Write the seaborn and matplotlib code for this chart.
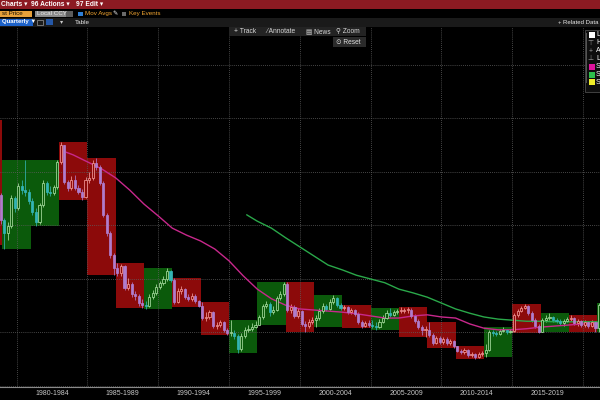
import numpy as np
import pandas as pd
import matplotlib.pyplot as plt
from matplotlib.patches import Rectangle
import seaborn as sns

# quarterly candles from Q1 1977 (the first seven quarters sit left of the view)
start_year = 1977
first_open = 40.4
closes = [44.1, 48.8, 46.0, 39.4, 27.7, 32.9, 35.7,
          31.0, 28.6, 29.9, 35.1, 33.3, 37.4, 36.6, 36.3, 34.6, 32.5,
          30.7, 33.8, 37.9, 36.3, 36.1, 37.2, 41.9, 45.0, 38.1, 37.0,
          38.5, 37.0, 36.3, 35.3, 38.5, 38.9, 41.7, 40.9, 37.9, 32.0,
          28.6, 24.5, 22.1, 21.1, 22.4, 18.3, 19.1, 17.2, 16.8, 15.5,
          15.1, 15.0, 16.6, 17.4, 18.5, 19.3, 20.0, 21.5, 19.8, 15.7,
          17.8, 18.1, 16.6, 16.3, 16.8, 15.9, 15.0, 12.7, 12.9, 13.8,
          11.2, 11.4, 12.0, 10.5, 9.9, 9.9, 9.3, 6.9, 9.3, 10.5,
          10.7, 11.0, 11.4, 12.9, 15.0, 15.3, 13.8, 14.2, 16.4, 17.2,
          19.1, 14.2, 14.8, 13.1, 14.0, 11.6, 11.2, 12.0, 12.3, 12.7,
          14.0, 15.0, 14.4, 15.7, 16.4, 15.1, 14.6, 14.8, 13.8, 14.2,
          13.5, 12.0, 11.2, 11.8, 11.4, 11.2, 11.0, 12.0, 12.7, 13.6,
          13.3, 13.8, 14.0, 14.0, 14.2, 14.2, 13.1, 12.1, 11.0, 10.5,
          10.5, 9.5, 8.0, 9.0, 8.2, 8.8, 8.0, 8.4, 7.5, 6.5,
          6.4, 6.7, 5.8, 6.0, 5.4, 6.0, 6.2, 6.7, 10.1, 9.9,
          9.7, 10.3, 10.5, 10.1, 10.3, 13.3, 14.0, 14.6, 15.0, 13.6,
          12.3, 11.2, 10.1, 12.3, 12.7, 12.9, 12.3, 12.1, 11.8, 12.1,
          12.5, 12.7, 11.8, 12.1, 11.4, 12.0, 11.2, 12.0, 10.8, 15.1]
highs = [46.0, 49.7, 49.3, 46.4, 40.0, 33.8, 36.6,
         36.1, 31.4, 30.7, 35.7, 35.5, 37.9, 38.5, 42.2, 36.8, 35.1,
         33.3, 34.2, 38.5, 38.3, 37.4, 37.6, 42.2, 45.6, 44.7, 38.5,
         39.3, 39.4, 37.6, 36.8, 39.1, 40.0, 42.2, 42.6, 41.3, 38.3,
         32.3, 29.0, 24.9, 23.0, 22.8, 22.6, 20.2, 19.4, 17.8, 17.2,
         16.3, 15.9, 17.2, 17.9, 19.1, 19.6, 20.6, 22.1, 21.7, 20.2,
         18.3, 18.7, 18.3, 17.2, 17.4, 17.2, 16.1, 15.7, 13.8, 14.2,
         14.0, 12.0, 12.3, 12.1, 10.8, 12.3, 10.5, 9.7, 9.9, 11.0,
         11.4, 11.8, 12.1, 13.3, 15.3, 15.9, 15.7, 15.0, 16.8, 17.8,
         19.4, 19.4, 15.3, 15.1, 14.6, 14.2, 12.1, 12.5, 12.9, 13.3,
         14.6, 15.5, 15.3, 16.3, 17.0, 16.6, 15.5, 15.1, 15.0, 14.6,
         14.4, 13.8, 12.3, 12.1, 12.3, 12.3, 12.0, 12.5, 13.3, 14.2,
         14.6, 14.2, 14.4, 14.8, 14.6, 14.8, 14.6, 13.5, 12.5, 11.4,
         11.2, 12.0, 9.9, 9.3, 9.3, 9.2, 9.2, 8.8, 8.6, 7.3,
         6.9, 7.1, 6.9, 6.4, 6.2, 6.4, 6.5, 7.9, 10.5, 10.5,
         10.3, 10.7, 11.0, 10.7, 10.7, 13.6, 14.4, 15.0, 15.3, 15.1,
         14.0, 12.7, 11.6, 12.7, 13.3, 13.6, 13.1, 12.7, 12.5, 12.5,
         12.9, 13.3, 12.9, 12.5, 12.3, 12.3, 12.1, 12.3, 12.1, 15.5]
lows = [40.0, 43.7, 45.0, 38.5, 26.4, 26.9, 32.0,
        30.3, 25.6, 27.3, 29.5, 32.5, 32.9, 35.9, 35.5, 34.0, 32.0,
        29.9, 30.3, 33.5, 35.7, 35.5, 35.7, 36.8, 41.5, 37.8, 36.4,
        36.6, 36.6, 35.9, 34.8, 35.1, 37.9, 38.5, 40.4, 37.6, 31.6,
        28.0, 23.9, 20.7, 20.6, 20.6, 17.9, 17.9, 16.6, 16.1, 15.0,
        14.6, 14.4, 14.8, 16.3, 17.0, 18.1, 18.9, 19.6, 19.4, 15.3,
        15.5, 17.2, 16.3, 15.9, 15.9, 15.5, 14.8, 12.3, 12.1, 12.5,
        10.8, 10.7, 11.0, 10.1, 9.5, 9.3, 8.8, 6.2, 6.5, 9.0,
        10.1, 10.3, 10.8, 11.4, 12.5, 14.6, 13.1, 13.5, 14.0, 16.1,
        16.8, 13.8, 13.6, 12.7, 12.7, 11.2, 10.1, 10.8, 11.6, 11.0,
        12.3, 13.6, 14.0, 14.2, 15.3, 14.8, 14.2, 14.2, 13.5, 13.5,
        13.1, 11.6, 10.8, 11.0, 11.0, 10.8, 10.5, 10.8, 11.8, 12.5,
        12.9, 13.1, 13.5, 13.6, 13.6, 13.6, 12.7, 11.8, 10.7, 9.5,
        9.2, 9.2, 7.7, 7.9, 7.9, 7.9, 7.7, 7.7, 7.1, 6.4,
        6.0, 6.0, 5.4, 5.4, 5.0, 5.2, 5.6, 5.4, 6.5, 9.3,
        9.3, 9.5, 10.1, 9.7, 9.9, 10.1, 12.9, 13.8, 14.4, 13.3,
        12.0, 10.8, 9.9, 10.5, 12.0, 12.3, 12.0, 11.8, 11.4, 11.2,
        12.0, 12.1, 11.4, 11.2, 11.0, 11.0, 10.8, 11.0, 10.1, 10.1]

# moving averages
ma50_years = [1983.5] + list(range(1984, 2022))
ma50 = [43.7, 43.2, 41.9, 40.6, 38.9, 36.6, 34.0, 31.8, 29.5, 28.2,
        27.1, 25.6, 23.4, 20.6, 18.1, 16.3, 15.1, 14.4, 14.2, 14.0,
        13.8, 13.5, 13.1, 12.7, 12.7, 13.1, 13.3, 12.9, 12.7, 11.6,
        10.8, 10.5, 10.5, 10.7, 11.0, 11.2, 11.4, 11.6, 11.6]
ma100_years = [1996.25] + list(range(1997, 2022))
ma100 = [32.0, 30.8, 29.5, 27.7, 26.0, 24.3, 22.6, 21.7, 20.7, 20.0,
         19.3, 18.1, 17.4, 16.6, 15.5, 14.4, 13.6, 12.9, 12.5, 12.3,
         12.1, 12.1, 12.0, 12.0, 12.0, 12.0]

period_labels = ["1980-1984", "1985-1989", "1990-1994", "1995-1999",
                 "2000-2004", "2005-2009", "2010-2014", "2015-2019"]

sns.set_style("dark")
plt.rcParams["font.family"] = ["Liberation Sans", "DejaVu Sans"]

BOX_UP, BOX_DN = "#0b5a0b", "#8c0a0a"

df = pd.DataFrame({"close": closes, "high": highs, "low": lows})
df["open"] = [first_open] + closes[:-1]
df["t"] = start_year + 0.125 + 0.25 * np.arange(len(df))
df["high"] = df[["high", "open", "close"]].max(axis=1)
df["low"] = df[["low", "open", "close"]].min(axis=1)
df["block"] = np.arange(len(df)) // 8

# two-year range boxes
boxes = df.groupby("block").agg(open=("open", "first"), close=("close", "last"),
                                high=("high", "max"), low=("low", "min"))
boxes["start"] = start_year + 2 * boxes.index
boxes["up"] = boxes["close"] > boxes["open"]
df["box_up"] = df["block"].map(boxes["up"])

up = df["close"] >= df["open"]
line_col = np.where(df["box_up"], np.where(up, "#a9dfa2", "#33b4b4"),
                    np.where(up, "#f59a9a", "#b07ccc"))
face_col = np.where(up, np.where(df["box_up"], BOX_UP, BOX_DN), line_col)

fig = plt.figure(figsize=(6, 4), dpi=100, facecolor="black")
ax = fig.add_axes([0, 13 / 400, 1, 360 / 400], facecolor="black")

ax.bar(boxes["start"] + 1, boxes["high"] - boxes["low"], width=2, bottom=boxes["low"],
       color=np.where(boxes["up"], BOX_UP, BOX_DN), linewidth=0, zorder=1)

ax.vlines(df["t"], df["low"], df["high"], colors=line_col, lw=0.55, zorder=3)
body_h = (df["close"] - df["open"]).abs().clip(lower=0.12)
ax.bar(df["t"], body_h, width=0.15, bottom=df[["open", "close"]].min(axis=1),
       color=face_col, edgecolor=line_col, linewidth=0.55, zorder=4)

sns.lineplot(x=ma50_years, y=ma50, ax=ax, color="#c8288c", lw=1.0, zorder=3.5)
sns.lineplot(x=ma100_years, y=ma100, ax=ax, color="#2aa84a", lw=1.0, zorder=3.5)

ax.set_xlim(1978.835, 2021.194)
ax.set_ylim(-0.19, 67.1)
ax.set_yticks(range(0, 70, 10))
ax.set_xticks(range(1980, 2021, 5))
ax.set_xticks([1982.5 + 5 * i for i in range(len(period_labels))], minor=True)
ax.set_xticklabels(period_labels, minor=True)
ax.set_axisbelow(False)
ax.grid(True, which="major", color="#5e5e5e", lw=0.6, ls=(0, (1, 1.5)))
ax.tick_params(axis="y", length=0, labelleft=False)
ax.tick_params(axis="x", which="major", length=9, width=0.8, color="#9a9a9a",
               labelbottom=False)
ax.tick_params(axis="x", which="minor", length=0, labelsize=5,
               labelcolor="#c8c8c8", pad=2.5)
ax.set_xlabel("")
ax.set_ylabel("")
for side in ["top", "right", "left"]:
    ax.spines[side].set_visible(False)
ax.spines["bottom"].set_color("#8a8a8a")
ax.spines["bottom"].set_linewidth(0.8)


def px_rect(x0, y0, x1, y1, color, ec="none", lw=0):
    fig.add_artist(Rectangle((x0 / 600, 1 - y1 / 400), (x1 - x0) / 600, (y1 - y0) / 400,
                             transform=fig.transFigure, facecolor=color,
                             edgecolor=ec, lw=lw, zorder=5))


def px_text(x, y, s, color, size=4.5, **kw):
    fig.text(x / 600, 1 - y / 400, s, color=color, fontsize=size, va="center",
             zorder=6, **kw)


# terminal toolbar
px_rect(0, 0, 600, 9, "#8c1a22")
px_text(1, 4, "Charts ▾", "white", 4.8, weight="bold")
px_text(31, 4, "96 Actions ▾", "white", 4.8, weight="bold")
px_text(76, 4, "97 Edit ▾", "white", 4.8, weight="bold")

px_rect(0, 9, 600, 18, "black")
px_rect(0, 10.5, 32, 17, "#e6a03a")
px_text(2, 13.8, "st Price", "#1a1000")
px_rect(35, 10.5, 66, 17, "#8a8a8a")
px_text(37, 13.8, "Local CCY", "#ececec")
px_rect(66, 10.5, 73, 17, "#5c5c5c")
px_rect(78, 11.5, 82.5, 16, "#2f7fd6")
px_text(85, 13.8, "Mov Avgs", "#f2a531")
px_text(112, 13.8, "✎", "white")
px_rect(122, 12, 126, 16, "#6a6a6a")
px_text(129, 13.8, "Key Events", "#f2a531")

px_rect(0, 18, 600, 27, "#1a1a1a")
px_rect(0, 18.5, 33, 25.5, "#1d62c9")
px_text(1.5, 22, "Quarterly ▼", "white", 4.3, weight="bold")
px_rect(37, 20, 43, 24.5, "none", ec="#9a9a9a", lw=0.5)
px_rect(46, 19.5, 53, 25, "#2558a8")
px_text(60, 22, "▾", "#cccccc", 4.5)
px_text(75, 22, "Table", "#e8e8e8")
px_text(599, 22, "+ Related Data", "#e8e8e8", 4.3, ha="right")

px_rect(229, 27, 366, 36, "#232323")
px_text(234, 31.5, "+ Track", "#d8d8d8", 4.8)
px_text(266, 31.5, "⁄ Annotate", "#d8d8d8", 4.8)
px_text(306, 31.5, "▤ News", "#d8d8d8", 4.8)
px_text(336, 31.5, "⚲ Zoom", "#d8d8d8", 4.8)
px_rect(333, 37, 366, 47, "#2b2b2b")
px_text(336, 42, "⊙ Reset", "#e0e0e0", 4.8)

# legend panel, cut by the right edge
px_rect(584.5, 29.5, 601, 92, "#0e0e0e", ec="#4a4a4a", lw=0.6)
px_rect(586.2, 33, 586.8, 83, "#555555")
px_rect(589, 32, 595, 38, "white")
px_text(596, 35, "L", "white", 5)
px_text(590.5, 43, "⊤", "#999999", 5, ha="center")
px_text(596, 43, "H", "white", 5)
px_text(590.5, 51, "+", "#999999", 5, ha="center")
px_text(596, 51, "A", "white", 5)
px_text(590.5, 59, "⊥", "#999999", 5, ha="center")
px_text(596, 59, "L", "white", 5)
px_rect(589, 64, 595, 70, "#e0149e")
px_text(596, 67, "S", "white", 5)
px_rect(589, 71.5, 595, 77.5, "#2dbf4c")
px_text(596, 74.5, "S", "white", 5)
px_rect(589, 79, 595, 85, "#f0ee2a")
px_text(596, 82, "S", "white", 5)

fig.savefig("out.png", dpi=100, facecolor="black")
